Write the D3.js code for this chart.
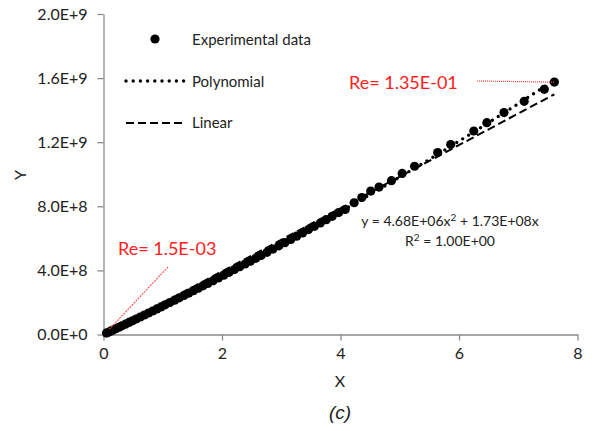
<!DOCTYPE html>
<html>
<head>
<meta charset="utf-8">
<script src="https://cdn.jsdelivr.net/npm/d3@7"></script>
<style>
  body { margin: 0; background: #fff; }
  svg text { font-family: Lato, "Open Sans", sans-serif; }
</style>
</head>
<body>
<svg id="chart" width="595" height="431"></svg>
<script>
// experimental points, x and y (y in units of 1E+8)
const xData = [0.05, 0.08, 0.12, 0.16, 0.21, 0.26, 0.31, 0.37, 0.43, 0.49, 0.55, 0.62, 0.69, 0.76, 0.83,
    0.90, 0.97, 1.04, 1.12, 1.20, 1.28, 1.36, 1.44, 1.52, 1.60, 1.68, 1.76, 1.85, 1.94, 2.03, 2.12,
    2.21, 2.30, 2.39, 2.48, 2.57, 2.66, 2.76, 2.86, 2.96, 3.06, 3.16, 3.26, 3.36, 3.46, 3.56, 3.66,
    3.76, 3.86, 3.97, 4.08, 4.23, 4.36, 4.51, 4.65, 4.86, 5.04, 5.25, 5.64, 5.86, 6.25, 6.47, 6.76,
    7.10, 7.44, 7.61];
const yData = [0.087, 0.139, 0.208, 0.278, 0.365, 0.453, 0.541, 0.646, 0.753, 0.859, 0.966, 1.091, 1.216, 1.342, 1.468,
    1.595, 1.722, 1.850, 1.996, 2.143, 2.291, 2.439, 2.588, 2.738, 2.888, 3.039, 3.190, 3.361, 3.532, 3.705, 3.878,
    4.052, 4.227, 4.402, 4.578, 4.755, 4.933, 5.131, 5.331, 5.531, 5.732, 5.934, 6.137, 6.341, 6.546, 6.752, 6.959,
    7.166, 7.375, 7.606, 7.80, 8.22, 8.55, 8.95, 9.20, 9.60, 10.05, 10.50, 11.35, 11.85, 12.70, 13.22, 13.85,
    14.55, 15.30, 15.75];

// trendline coefficients (y in 1E+8)
const polyA = 0.0468, polyB = 1.73;
const linSlope = 1.97;

const xTicks = [0, 2, 4, 6, 8];
const yTicks = [0, 4, 8, 12, 16, 20];
const yTickLabels = ["0.0E+0", "4.0E+8", "8.0E+8", "1.2E+9", "1.6E+9", "2.0E+9"];

const svg = d3.select("#chart");
const x = d3.scaleLinear().domain([0, 8]).range([103.5, 577.5]);
const y = d3.scaleLinear().domain([0, 20]).range([334.5, 14]);
const axisColor = "#8a8a8a", textColor = "#222";

// axes
const xAxis = svg.append("g").attr("transform", "translate(0,334.5)")
    .call(d3.axisBottom(x).tickValues(xTicks).tickSize(6).tickSizeOuter(0).tickPadding(7));
const yAxis = svg.append("g").attr("transform", "translate(103.5,0)")
    .call(d3.axisLeft(y).tickValues(yTicks).tickSize(6).tickSizeOuter(0).tickPadding(10)
        .tickFormat((d, i) => yTickLabels[i]));
[xAxis, yAxis].forEach(g => {
    g.select(".domain").attr("stroke", axisColor).attr("stroke-width", 1.3);
    g.selectAll(".tick line").attr("stroke", axisColor).attr("stroke-width", 1.3);
    g.selectAll(".tick text").attr("fill", textColor).style("font-size", "16px");
});

svg.append("text").attr("x", 340).attr("y", 387).attr("text-anchor", "middle")
    .attr("fill", textColor).style("font-size", "16px").text("X");
svg.append("text").attr("transform", "translate(26,175) rotate(-90)").attr("text-anchor", "middle")
    .attr("fill", textColor).style("font-size", "16px").text("Y");
svg.append("text").attr("x", 340).attr("y", 419).attr("text-anchor", "middle")
    .attr("fill", "#222").style("font-size", "19px").style("font-style", "italic")
    .style("font-family", "'Liberation Sans', Arial, sans-serif").text("(c)");

// trendlines
const line = d3.line().x(d => x(d[0])).y(d => y(d[1]));
const linPts = [xData[0], xData[xData.length - 1]].map(v => [v, linSlope * v]);
svg.append("path").attr("d", line(linPts)).attr("fill", "none")
    .attr("stroke", "#000").attr("stroke-width", 2).attr("stroke-dasharray", "8 4");

svg.selectAll(".pt").data(xData).join("circle").attr("class", "pt")
    .attr("cx", d => x(d)).attr("cy", (d, i) => y(yData[i])).attr("r", 4.6).attr("fill", "#000");

const polyPts = xData.map(v => [v, polyA * v * v + polyB * v]);
svg.append("path").attr("d", line.curve(d3.curveMonotoneX)(polyPts)).attr("fill", "none")
    .attr("stroke", "#000").attr("stroke-width", 3.4).attr("stroke-linecap", "round")
    .attr("stroke-dasharray", "0 7");

// legend
svg.append("circle").attr("cx", 155).attr("cy", 39).attr("r", 4.6).attr("fill", "#000");
svg.append("line").attr("x1", 126).attr("x2", 184).attr("y1", 81).attr("y2", 81)
    .attr("stroke", "#000").attr("stroke-width", 3.4).attr("stroke-linecap", "round").attr("stroke-dasharray", "0 7.2");
svg.append("line").attr("x1", 126).attr("x2", 182).attr("y1", 123).attr("y2", 123)
    .attr("stroke", "#000").attr("stroke-width", 2).attr("stroke-dasharray", "8 4");
const legendNames = ["Experimental data", "Polynomial", "Linear"];
svg.selectAll(".leg").data(legendNames).join("text").attr("class", "leg")
    .attr("x", 192).attr("y", (d, i) => 45 + i * 41.5).attr("fill", textColor)
    .style("font-size", "15px").text(d => d);

// equation
svg.append("text").attr("x", 450).attr("y", 226).attr("text-anchor", "middle").attr("fill", "#222")
    .style("font-size", "14px").html("y = 4.68E+06x<tspan dy='-5' font-size='10'>2</tspan><tspan dy='5'> + 1.73E+08x</tspan>");
svg.append("text").attr("x", 450).attr("y", 246).attr("text-anchor", "middle").attr("fill", "#222")
    .style("font-size", "14px").html("R<tspan dy='-5' font-size='10'>2</tspan><tspan dy='5'> = 1.00E+00</tspan>");

// Re annotations
const last = xData.length - 1;
svg.append("line").attr("x1", 477).attr("y1", 81).attr("x2", x(xData[last])).attr("y2", y(yData[last]))
    .attr("stroke", "#ff4040").attr("stroke-width", 1.2).attr("stroke-dasharray", "1 1");
svg.append("text").attr("x", 349).attr("y", 89).attr("fill", "#ff2020").style("font-size", "18px").text("Re= 1.35E-01");
svg.append("line").attr("x1", 168).attr("y1", 267).attr("x2", x(xData[0]) + 3).attr("y2", y(yData[0]) - 4)
    .attr("stroke", "#ff4a4a").attr("stroke-width", 1.1).attr("stroke-dasharray", "2 1");
svg.append("text").attr("x", 118).attr("y", 255).attr("fill", "#ff2020").style("font-size", "18px").text("Re= 1.5E-03");
</script>
</body>
</html>
